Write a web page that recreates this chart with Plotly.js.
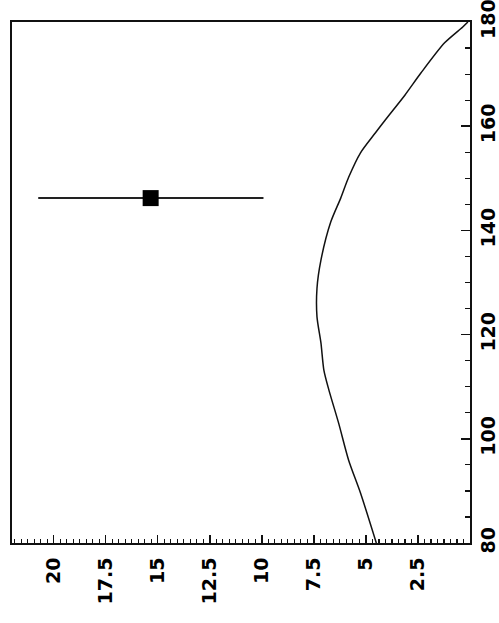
<!DOCTYPE html>
<html>
<head>
<meta charset="utf-8">
<script src="https://cdn.plot.ly/plotly-3.0.1.min.js"></script>
<style>
  html, body { margin: 0; padding: 0; background: #fff; }
  #chart { width: 499px; height: 623px; }
</style>
</head>
<body>
<div id="chart"></div>
<script>
// Profile curve: horizontal value against vertical position
const profileDepth = [80, 89.6, 95.9, 103.0, 109.4, 113.2, 118.4, 123.4, 128.9, 134.3,
                      141.6, 146.2, 150.2, 154.9, 158.7, 161.2, 166.0, 170.2, 176.0, 179.0, 180];
const profileValue = [4.5, 5.26, 5.83, 6.31, 6.78, 7.02, 7.16, 7.35, 7.35, 7.16,
                      6.69, 6.21, 5.83, 5.26, 4.55, 4.07, 3.12, 2.36, 1.22, 0.36, 0.1];

// Single observation with its horizontal error bar
const obsDepth = [146.2];
const obsValue = [15.34];
const obsErrPlus = [5.4];
const obsErrMinus = [5.42];

// Tick labels
const xTickVals = [20, 17.5, 15, 12.5, 10, 7.5, 5, 2.5];
const xTickText = ['20', '17.5', '15', '12.5', '10', '7.5', '5', '2.5'];
const yTickVals = [80, 100, 120, 140, 160, 180];
const yTickText = ['80', '100', '120', '140', '160', '180'];

const tickFont = { family: '"DejaVu Sans", sans-serif', size: 19, color: '#000', weight: 900 };

const traces = [
  {
    x: profileValue,
    y: profileDepth,
    mode: 'lines',
    type: 'scatter',
    line: { color: '#111', width: 1.5, shape: 'spline', smoothing: 0.7 },
    hoverinfo: 'skip',
    showlegend: false
  },
  {
    x: obsValue,
    y: obsDepth,
    mode: 'markers',
    type: 'scatter',
    marker: { symbol: 'square', size: 16, color: '#000' },
    error_x: {
      type: 'data',
      symmetric: false,
      array: obsErrPlus,
      arrayminus: obsErrMinus,
      color: '#222',
      thickness: 2,
      width: 0
    },
    showlegend: false
  }
];

const layout = {
  width: 499,
  height: 623,
  margin: { l: 12, r: 29, t: 22, b: 80 },
  paper_bgcolor: '#fff',
  plot_bgcolor: '#fff',
  showlegend: false,
  xaxis: {
    range: [22, 0],
    showgrid: false,
    zeroline: false,
    showline: true,
    linecolor: '#111',
    linewidth: 2,
    mirror: true,
    ticks: 'inside',
    ticklen: 8,
    tickwidth: 1.5,
    tickcolor: '#111',
    tickvals: xTickVals,
    ticktext: xTickText,
    tickangle: -90,
    tickfont: tickFont,
    ticklabelstandoff: 5,
    minor: { dtick: 0.3125, tick0: 0, ticks: 'inside', ticklen: 4, tickwidth: 1.2, tickcolor: '#111', showgrid: false }
  },
  yaxis: {
    range: [80, 180],
    side: 'right',
    showgrid: false,
    zeroline: false,
    showline: true,
    linecolor: '#111',
    linewidth: 2,
    mirror: true,
    ticks: 'inside',
    ticklen: 9,
    tickwidth: 1.5,
    tickcolor: '#111',
    tickvals: yTickVals,
    ticktext: yTickText,
    tickangle: -90,
    tickfont: tickFont,
    ticklabelstandoff: 0,
    ticklabeloverflow: 'allow',
    minor: { dtick: 5, tick0: 80, ticks: 'inside', ticklen: 5, tickwidth: 1.2, tickcolor: '#111', showgrid: false }
  }
};

Plotly.newPlot('chart', traces, layout, { displayModeBar: false, staticPlot: true });
</script>
</body>
</html>
